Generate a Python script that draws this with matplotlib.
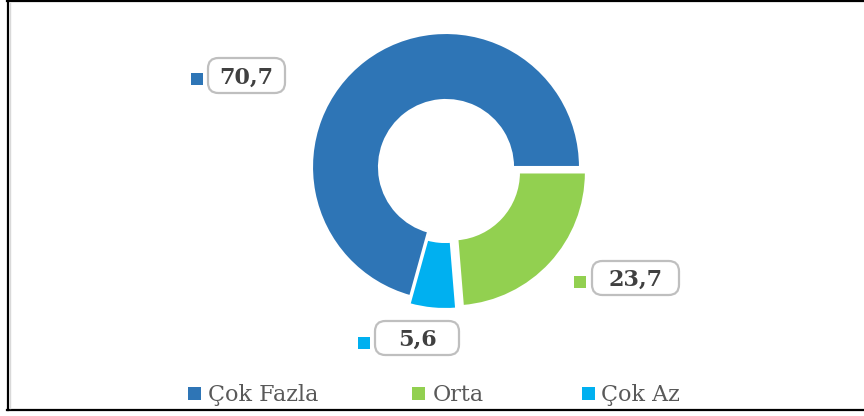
import matplotlib
matplotlib.use("Agg")
import matplotlib.pyplot as plt
from matplotlib.patches import FancyBboxPatch, Rectangle
from matplotlib.lines import Line2D

# ---- data ----
categories = ["Çok Fazla", "Orta", "Çok Az"]
values = [70.7, 23.7, 5.6]
value_labels = ["70,7", "23,7", "5,6"]
colors = ["#2E75B6", "#92D050", "#00B0F0"]
explode = [0.0, 0.06, 0.06]

W, H = 864, 416
fig = plt.figure(figsize=(W / 100, H / 100), dpi=100)
fig.patch.set_facecolor("white")

def fx(x):
    return x / W

def fy(y):
    return 1 - y / H

# donut axes: centre at pixel (446,167), radius 134 px
cx, cy, R = 446, 167, 134
ax = fig.add_axes([0, 0, 1, 1])
start = 360 * values[0] / sum(values)
ax.pie(values, colors=colors, explode=explode, startangle=start,
       counterclock=False, radius=1, center=(0, 0),
       wedgeprops=dict(width=0.5, edgecolor="white", linewidth=1.5))
ax.set_xlim(-cx / R, (W - cx) / R)
ax.set_ylim((cy - H) / R, cy / R)
ax.set_aspect("auto")
ax.axis("off")

# ---- data labels (box + colour key) ----
# (box left, box top, box width, box height, key centre x, key centre y)
label_layout = [
    (208, 58, 77, 35, 197, 79),
    (592, 261, 87, 34, 580, 282),
    (375, 321, 84, 34, 364, 343),
]
for (bx, by, bw, bh, kx, ky), txt, col in zip(label_layout, value_labels, colors):
    box = FancyBboxPatch((fx(bx), fy(by + bh)), bw / W, bh / H,
                         boxstyle="round,pad=0,rounding_size=0.012",
                         transform=fig.transFigure, facecolor="white",
                         edgecolor="#BFBFBF", linewidth=1.6, mutation_aspect=W / H)
    fig.add_artist(box)
    fig.text(fx(bx + bw / 2), fy(by + bh / 2 + 8), txt, ha="center", va="baseline",
             fontsize=16, fontweight="bold", family="DejaVu Serif", color="#404040")
    s = 12
    fig.add_artist(Rectangle((fx(kx - s / 2), fy(ky + s / 2)), s / W, s / H,
                             transform=fig.transFigure, facecolor=col, edgecolor="none"))

# ---- legend ----
legend_layout = [(194, 208), (418, 433), (588, 601)]
for (mx, tx), name, col in zip(legend_layout, categories, colors):
    s = 13
    fig.add_artist(Rectangle((fx(mx - s / 2), fy(393 + s / 2)), s / W, s / H,
                             transform=fig.transFigure, facecolor=col, edgecolor="none"))
    fig.text(fx(tx), fy(401), name, ha="left", va="baseline", fontsize=16,
             family="DejaVu Serif", color="#595959")

# ---- outer frame lines ----
fig.add_artist(Line2D([fx(7), fx(W)], [fy(1), fy(1)], transform=fig.transFigure,
                      color="black", linewidth=1.6))
fig.add_artist(Line2D([fx(8), fx(8)], [fy(1), fy(410)], transform=fig.transFigure,
                      color="black", linewidth=1.6))
fig.add_artist(Line2D([fx(7), fx(W)], [fy(410), fy(410)], transform=fig.transFigure,
                      color="black", linewidth=1.6))
fig.add_artist(Line2D([fx(10), fx(10)], [fy(3), fy(408)], transform=fig.transFigure,
                      color="#D9D9D9", linewidth=1.0))

fig.savefig("out.png", dpi=100)
